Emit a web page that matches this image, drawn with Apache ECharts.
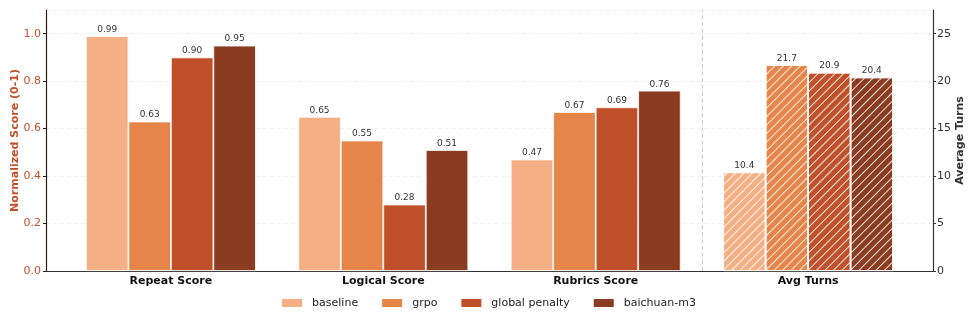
<!DOCTYPE html>
<html>
<head>
<meta charset="utf-8">
<script src="https://cdn.jsdelivr.net/npm/echarts@6/dist/echarts.min.js"></script>
<style>
  html, body { margin: 0; padding: 0; background: #fff; }
  #chart { width: 976px; height: 326px; }
</style>
</head>
<body>
<div id="chart"></div>
<script>
// 类别与数据
var categories = ['Repeat Score', 'Logical Score', 'Rubrics Score', 'Avg Turns'];
var methods = ['baseline', 'grpo', 'global penalty', 'baichuan-m3'];
var colors = ['#F4B084', '#E6854A', '#C0502A', '#8B3B20'];

// 归一化分数 (Repeat, Logical, Rubrics)
var baselineScores = [0.99, 0.65, 0.47];
var grpoScores = [0.63, 0.55, 0.67];
var penaltyScores = [0.90, 0.28, 0.69];
var m3Scores = [0.95, 0.51, 0.76];

// 平均轮数
var avgTurns = [10.4, 21.7, 20.9, 20.4];

var scoreLists = [baselineScores, grpoScores, penaltyScores, m3Scores];

var chart = echarts.init(document.getElementById('chart'));

var series = [];
methods.forEach(function (name, k) {
  series.push({
    name: name,
    type: 'bar',
    xAxisIndex: 0,
    yAxisIndex: 0,
    barGap: '0%',
    barCategoryGap: '20%',
    itemStyle: { color: colors[k], borderColor: '#fff', borderWidth: 0.8 },
    label: {
      show: true, position: 'top', distance: 2,
      fontSize: 9, color: '#333', fontFamily: 'DejaVu Sans',
      formatter: function (p) { return p.value[1].toFixed(2); }
    },
    data: scoreLists[k].map(function (v, i) { return [i, v]; })
  });
  // 平均轮数（右轴，斜线填充）
  var turnData = [[0, null], [1, null], [2, null], [3, avgTurns[k]]];
  series.push({
    name: name,
    type: 'bar',
    xAxisIndex: 1,
    yAxisIndex: 1,
    barGap: '0%',
    barCategoryGap: '20%',
    itemStyle: {
      color: colors[k], borderColor: '#fff', borderWidth: 0.8,
      decal: {
        symbol: 'rect',
        color: 'rgba(255,255,255,0.85)',
        dashArrayX: [1, 0],
        dashArrayY: [1, 5],
        rotation: -Math.PI / 4
      }
    },
    label: {
      show: true, position: 'top', distance: 2,
      fontSize: 9, color: '#333', fontFamily: 'DejaVu Sans',
      formatter: function (p) { return p.value[1] == null ? '' : p.value[1].toFixed(1); }
    },
    data: turnData
  });
});

// 分隔虚线
series.push({
  type: 'line',
  xAxisIndex: 0,
  yAxisIndex: 0,
  data: [],
  markLine: {
    silent: true, symbol: 'none', label: { show: false },
    lineStyle: { color: '#c8c8c8', type: [4, 3], width: 1 },
    data: [{ xAxis: 2.5 }]
  }
});

var option = {
  animation: false,
  textStyle: { fontFamily: 'DejaVu Sans' },
  grid: { left: 46, right: 43, top: 10, bottom: 55, outerBoundsMode: 'none' },
  legend: {
    bottom: 12,
    left: 'center',
    icon: 'rect',
    itemWidth: 22,
    itemHeight: 10,
    itemGap: 22,
    textStyle: { fontSize: 11, color: '#222', fontFamily: 'DejaVu Sans', padding: [0, 0, 0, 4] },
    data: methods
  },
  xAxis: [{
    type: 'value',
    min: -0.588,
    max: 3.588,
    axisLine: { show: true, onZero: false, lineStyle: { color: '#333', width: 1.2 } },
    axisTick: { show: false },
    splitLine: { show: false },
    axisLabel: {
      customValues: [0, 1, 2, 3],
      formatter: function (v) { return categories[Math.round(v)]; },
      fontWeight: 'bold', fontSize: 11, color: '#111', margin: 5
    }
  }, {
    type: 'value',
    min: -0.588,
    max: 3.588,
    show: false
  }],
  yAxis: [{
    type: 'value',
    min: 0,
    max: 1.1,
    interval: 0.2,
    name: 'Normalized Score (0-1)',
    nameLocation: 'middle',
    nameGap: 25,
    nameMoveOverlap: false,
    nameTextStyle: { color: '#C0502A', fontWeight: 'bold', fontSize: 11 },
    axisLine: { show: true, onZero: false, lineStyle: { color: '#2b1d16', width: 1.2 } },
    axisTick: { show: true, length: 3, lineStyle: { color: '#2b1d16' } },
    axisLabel: {
      color: '#C0502A', fontSize: 11, margin: 5, showMaxLabel: false,
      formatter: function (v) { return v.toFixed(1); }
    },
    splitLine: { show: true, lineStyle: { color: '#ececec', type: [4, 3], width: 0.8 } }
  }, {
    type: 'value',
    min: 0,
    max: 27.5,
    interval: 5,
    position: 'right',
    name: 'Average Turns',
    nameLocation: 'middle',
    nameGap: 22,
    nameMoveOverlap: false,
    nameTextStyle: { color: '#333', fontWeight: 'bold', fontSize: 11 },
    axisLine: { show: true, onZero: false, lineStyle: { color: '#333', width: 1.2 } },
    axisTick: { show: true, length: 3, lineStyle: { color: '#333' } },
    axisLabel: { color: '#333', fontSize: 11, margin: 4, showMaxLabel: false },
    splitLine: { show: false }
  }],
  series: series
};

chart.setOption(option);
</script>
</body>
</html>
